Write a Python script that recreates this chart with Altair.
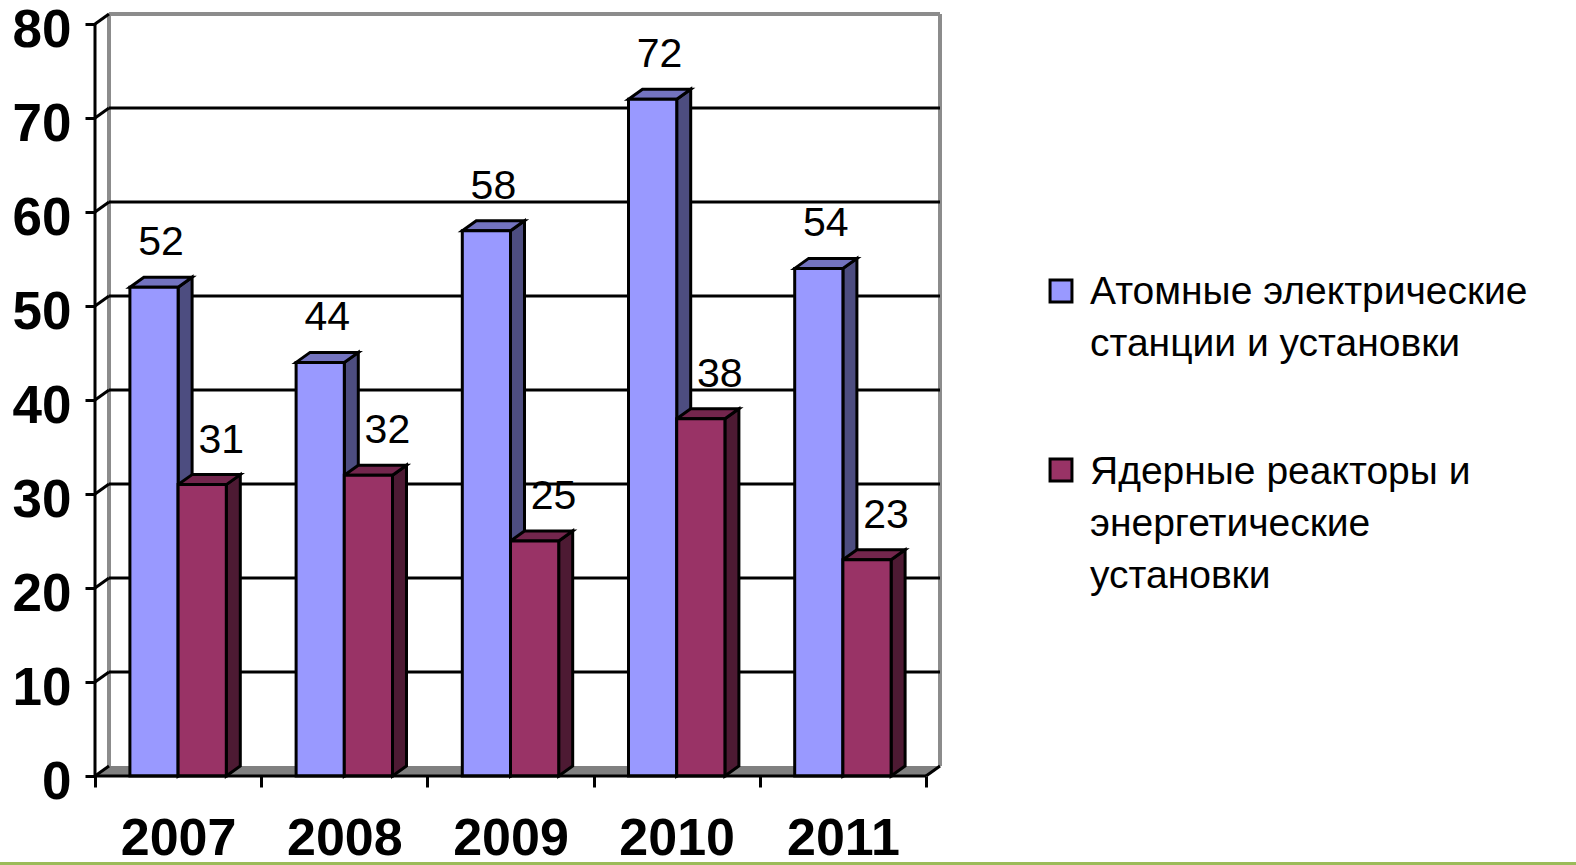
import altair as alt
import pandas as pd

# ---- data ----
years = ["2007", "2008", "2009", "2010", "2011"]
series = [
    "Атомные электрические\nстанции и установки",
    "Ядерные реакторы и\nэнергетические\nустановки",
]
npp_values = [52, 44, 58, 72, 54]
reactor_values = [31, 32, 25, 38, 23]
y_ticks = [0, 10, 20, 30, 40, 50, 60, 70, 80]

# ---- styling ----
front_colors = ["#9999FF", "#993366"]
top_colors = ["#7373BF", "#73264D"]
side_colors = ["#4D4D80", "#4D1A33"]
FONT = "Liberation Sans"

# ---- 3-D geometry (plot area size and depth of the box) ----
W, H = 845, 762
Y_MAX = 80
DX_PX, DY_PX = 14, 10
n = len(years)
ux = (W - DX_PX) / n          # pixels per category
uy = (H - DY_PX) / Y_MAX      # pixels per value unit
DX = DX_PX / ux               # depth shift in x units
DY = DY_PX / uy               # depth shift in y units
BAR_W = 0.29                  # bar width as a fraction of a category

xs = alt.Scale(domain=[0, n + DX], nice=False, zero=False)
ys = alt.Scale(domain=[0, Y_MAX + DY], nice=False, zero=False)

# bars: one row per face geometry
bars, sides, tops, labels = [], [], [], []
for s, vals in enumerate([npp_values, reactor_values]):
    for i, v in enumerate(vals):
        left = i + 0.5 - BAR_W if s == 0 else i + 0.5
        right = left + BAR_W
        key = f"{s}-{i}"
        bars.append(dict(series=series[s], key=key, L=left, R=right, y0=0, v=v))
        sides.append(dict(series=series[s], key=key, x=right, y0=0, y1=v))
        sides.append(dict(series=series[s], key=key, x=right + DX, y0=DY, y1=v + DY))
        tops.append(dict(series=series[s], key=key, yy=v, xa=left, xb=right))
        tops.append(dict(series=series[s], key=key, yy=v + DY, xa=left + DX, xb=right + DX))
        labels.append(dict(series=series[s], s=s, x=(left + right) / 2 + DX / 2,
                           y=v + DY, value=v))
bars = pd.DataFrame(bars)
sides = pd.DataFrame(sides)
tops = pd.DataFrame(tops)
labels = pd.DataFrame(labels)

# floor of the box
floor = pd.DataFrame([
    dict(fy=0, fx0=0, fx1=n),
    dict(fy=DY, fx0=DX, fx1=n + DX),
])

# gray border of the back wall
wall = pd.DataFrame([
    dict(x=DX, x2=DX, y=DY, y2=Y_MAX + DY),
    dict(x=DX, x2=n + DX, y=Y_MAX + DY, y2=Y_MAX + DY),
    dict(x=n + DX, x2=n + DX, y=DY, y2=Y_MAX + DY),
])

# gridlines on the back wall
grid = pd.DataFrame([dict(x=DX, x2=n + DX, y=t + DY, y2=t + DY)
                     for t in y_ticks if 0 < t < Y_MAX])

# front axis lines and the slanted connectors to the back wall
axis_lines = [dict(x=0, x2=0, y=0, y2=Y_MAX),
              dict(x=0, x2=n, y=0, y2=0),
              dict(x=n, x2=n + DX, y=0, y2=DY)]
axis_lines += [dict(x=0, x2=DX, y=t, y2=t + DY) for t in y_ticks]
axis_lines = pd.DataFrame(axis_lines)

year_expr = "datum.value < %d ? [%s][datum.value] : ''" % (
    n, ",".join("'%s'" % y for y in years))

x_axis = alt.Axis(values=list(range(n + 1)), tickSize=11, tickWidth=3,
                  tickColor="black", domain=False, grid=False,
                  labelExpr=year_expr, labelOffset=ux / 2, labelFont=FONT,
                  labelFontSize=52, labelFontWeight="bold", labelColor="black",
                  labelPadding=26, labelFlush=False, labelOverlap=False, title=None)
y_axis = alt.Axis(values=y_ticks, tickSize=10, tickWidth=3, tickColor="black",
                  domain=False, grid=False, labelFont=FONT, labelFontSize=53,
                  labelFontWeight="bold", labelColor="black", labelPadding=14,
                  labelOffset=6, labelFlush=False, labelOverlap=False, title=None)


def X(field, **kw):
    return alt.X(field, scale=xs, axis=x_axis, **kw)


def Y(field, **kw):
    return alt.Y(field, scale=ys, axis=y_axis, **kw)


def fill_enc(colors):
    return alt.Fill("series:N", scale=alt.Scale(domain=series, range=colors),
                    legend=None)


floor_layer = alt.Chart(floor).mark_area(orient="horizontal", color="#808080").encode(
    y=Y("fy:Q", stack=None),
    x=X("fx0:Q", stack=None),
    x2="fx1:Q",
)


def rules(df, color, width):
    return alt.Chart(df).mark_rule(color=color, strokeWidth=width).encode(
        x=X("x:Q"), x2="x2:Q", y=Y("y:Q"), y2="y2:Q",
    )


wall_layer = rules(wall, "#8C8C8C", 4)
grid_layer = rules(grid, "black", 3)

side_layer = alt.Chart(sides).mark_area(
    orient="vertical", stroke="black", strokeWidth=3, strokeJoin="miter", opacity=1
).encode(
    x=X("x:Q"),
    y=Y("y0:Q", stack=None),
    y2="y1:Q",
    detail="key:N",
    fill=fill_enc(side_colors),
)

top_layer = alt.Chart(tops).mark_area(
    orient="horizontal", stroke="black", strokeWidth=3, strokeJoin="miter", opacity=1
).encode(
    y=Y("yy:Q"),
    x=X("xa:Q", stack=None),
    x2="xb:Q",
    detail="key:N",
    fill=fill_enc(top_colors),
)

front_layer = alt.Chart(bars).mark_rect(stroke="black", strokeWidth=3).encode(
    x=X("L:Q"), x2="R:Q",
    y=Y("y0:Q"), y2="v:Q",
    fill=fill_enc(front_colors),
)

axis_layer = rules(axis_lines, "black", 3)


def value_labels(s, shift):
    return alt.Chart(labels[labels.s == s]).mark_text(
        font=FONT, fontSize=41, color="black", baseline="alphabetic",
        align="center", dy=-22, dx=shift,
    ).encode(x=X("x:Q"), y=Y("y:Q"), text="value:Q")


label_layers = [value_labels(0, 0), value_labels(1, 12)]

# legend on the right: a square swatch and a wrapped name per series
legend_layers = []
for name, colr, sq_y, txt_y in zip(series, front_colors, [277, 456], [290, 470]):
    one = pd.DataFrame({"series": [name]})
    legend_layers.append(
        alt.Chart(one).mark_square(size=480, stroke="black", strokeWidth=3,
                                   fill=colr, opacity=1).encode(
            x=alt.value(966), y=alt.value(sq_y))
    )
    legend_layers.append(
        alt.Chart(one).mark_text(
            font=FONT, fontSize=39, color="black", align="left",
            baseline="alphabetic", lineBreak="\n", lineHeight=52,
        ).encode(x=alt.value(995), y=alt.value(txt_y), text="series:N")
    )

# thin green stripe along the bottom edge
stripe = alt.Chart(pd.DataFrame({"k": [0]})).mark_rule(
    color="#9BBB59", strokeWidth=3
).encode(x=alt.value(-95), x2=alt.value(1576 - 95), y=alt.value(849.5))

chart = alt.layer(
    floor_layer, wall_layer, grid_layer, side_layer, top_layer, front_layer,
    axis_layer, *label_layers, *legend_layers, stripe,
).resolve_scale(fill="independent").properties(
    width=W, height=H,
    autosize=alt.AutoSizeParams(type="none"),
    padding={"left": 95, "top": 14, "right": 1576 - 95 - W, "bottom": 865 - 14 - H},
    background="white",
).configure_view(stroke=None)

chart.save("out.html", embed_options={"renderer": "svg", "actions": False})
